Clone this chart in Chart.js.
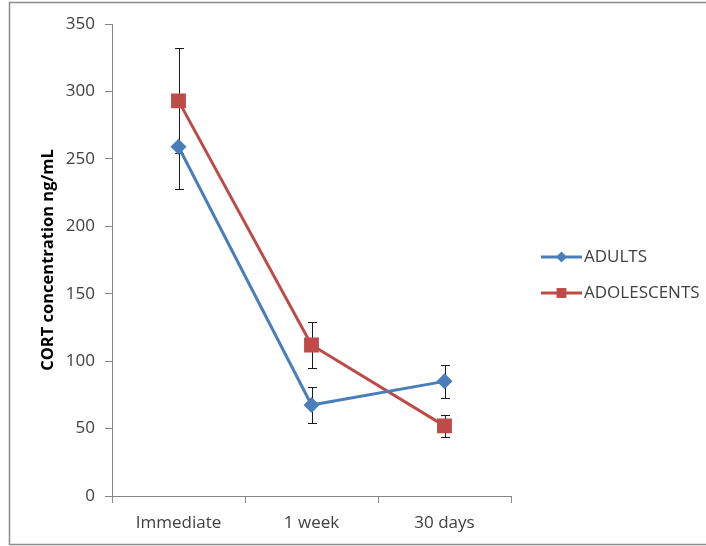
<!DOCTYPE html>
<html>
<head>
<meta charset="utf-8">
<script src="https://cdn.jsdelivr.net/npm/chart.js@4/dist/chart.umd.min.js"></script>
<style>
  html, body { margin: 0; padding: 0; background: #fff; }
  #wrap { width: 706px; height: 546px; }
</style>
</head>
<body>
<div id="wrap"><canvas id="cortChart" width="706" height="546"></canvas></div>
<script>
// CORT concentration by time point, adults vs adolescents, with error bars
const CATEGORIES = ['Immediate', '1 week', '30 days'];
const ADULTS = [259, 67.5, 85];
const ADULTS_ERR = [31, 13, 12.5];
const ADOLESCENTS = [293, 112, 52];
const ADOLESCENTS_ERR = [39, 17, 8];
const Y_TICKS = [0, 50, 100, 150, 200, 250, 300, 350];

const BLUE = '#4A7EBB';
const RED = '#BE4B48';
const AXIS = '#868686';
const TEXT = '#404040';
const FONT = '"Open Sans", "Liberation Sans", sans-serif';

const ERRS = [ADULTS_ERR, ADOLESCENTS_ERR];

// Excel-style error bars, drawn behind the markers
const errorBars = {
  id: 'errorBars',
  beforeDatasetsDraw(chart) {
    const { ctx, scales: { x, y } } = chart;
    ctx.save();
    ctx.strokeStyle = '#1a1a1a';
    ctx.lineWidth = 1;
    chart.data.datasets.forEach((ds, di) => {
      const errs = ERRS[di];
      ds.data.forEach((v, i) => {
        const px = Math.round(x.getPixelForValue(i)) + 0.5;
        const top = Math.round(y.getPixelForValue(v + errs[i])) + 0.5;
        const bot = Math.round(y.getPixelForValue(v - errs[i])) + 0.5;
        ctx.beginPath();
        ctx.moveTo(px, top); ctx.lineTo(px, bot);
        ctx.moveTo(px - 4.5, top); ctx.lineTo(px + 4.5, top);
        ctx.moveTo(px - 4.5, bot); ctx.lineTo(px + 4.5, bot);
        ctx.stroke();
      });
    });
    ctx.restore();
  }
};

// Legend with line + marker, plus the outer frame
const frameAndLegend = {
  id: 'frameAndLegend',
  afterDraw(chart) {
    const ctx = chart.ctx;
    ctx.save();
    ctx.strokeStyle = '#8c8c8c';
    ctx.lineWidth = 1.5;
    ctx.strokeRect(9.5, 2.5, 720, 542);

    const items = [
      { label: 'ADULTS', color: BLUE, style: 'rectRot', r: 5.5, y: 257 },
      { label: 'ADOLESCENTS', color: RED, style: 'rect', r: 7, y: 293 }
    ];
    items.forEach(it => {
      ctx.strokeStyle = it.color;
      ctx.lineWidth = 3;
      ctx.beginPath();
      ctx.moveTo(541, it.y); ctx.lineTo(582, it.y);
      ctx.stroke();
      ctx.fillStyle = it.color;
      Chart.helpers.drawPoint(ctx, { pointStyle: it.style, radius: it.r, rotation: 0, borderWidth: 0 }, 561.5, it.y);
      ctx.fillStyle = TEXT;
      ctx.font = '17px ' + FONT;
      ctx.textAlign = 'left';
      ctx.textBaseline = 'middle';
      ctx.fillText(it.label, 584, it.y);
    });
    ctx.restore();
  }
};

new Chart(document.getElementById('cortChart'), {
  type: 'line',
  data: {
    labels: CATEGORIES,
    datasets: [
      {
        label: 'ADULTS',
        data: ADULTS,
        borderColor: BLUE,
        backgroundColor: BLUE,
        borderWidth: 3,
        pointStyle: 'rectRot',
        pointRadius: 8,
        pointBorderWidth: 0,
        tension: 0
      },
      {
        label: 'ADOLESCENTS',
        data: ADOLESCENTS,
        borderColor: RED,
        backgroundColor: RED,
        borderWidth: 3,
        pointStyle: 'rect',
        pointRadius: 10.5,
        pointBorderWidth: 0,
        tension: 0
      }
    ]
  },
  options: {
    responsive: false,
    animation: false,
    layout: { padding: { left: 0, top: 24, right: 195, bottom: 0 } },
    plugins: {
      legend: { display: false },
      tooltip: { enabled: false }
    },
    scales: {
      x: {
        offset: true,
        grid: { offset: true, drawOnChartArea: false, drawTicks: true, tickLength: 7, color: AXIS },
        border: { color: AXIS, width: 1 },
        ticks: { color: TEXT, font: { family: FONT, size: 17 }, padding: 10, maxRotation: 0 },
        afterFit: (s) => { s.height = 50; }
      },
      y: {
        min: 0,
        max: 350,
        afterBuildTicks: (s) => { s.ticks = Y_TICKS.map(v => ({ value: v })); },
        grid: { drawOnChartArea: false, drawTicks: true, tickLength: 7, color: AXIS },
        border: { color: AXIS, width: 1 },
        ticks: { color: TEXT, font: { family: FONT, size: 17 }, padding: 10 },
        title: {
          display: true,
          text: 'CORT concentration ng/mL',
          color: '#000',
          font: { family: FONT, size: 16.5, weight: 'bold' },
          padding: { top: 38, bottom: 0 }
        },
        afterFit: (s) => { s.width = 112; }
      }
    }
  },
  plugins: [errorBars, frameAndLegend]
});
</script>
</body>
</html>
